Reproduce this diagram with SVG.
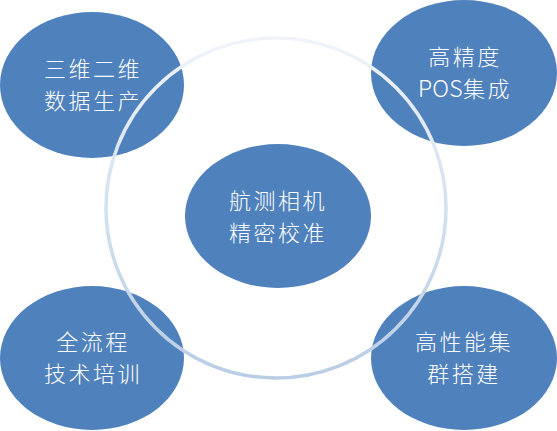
<svg xmlns="http://www.w3.org/2000/svg" width="557" height="431" viewBox="0 0 557 431">
  <defs>
    <linearGradient id="ringGrad" gradientUnits="userSpaceOnUse" x1="276" y1="38" x2="276" y2="378">
      <stop offset="0" stop-color="#f0f4fa"/>
      <stop offset="0.5" stop-color="#d3e0ef"/>
      <stop offset="1" stop-color="#b9cde5"/>
    </linearGradient>
  </defs>
  <style>
    .node { fill: #4f81bd; }
    .label { fill: #ffffff; font-family: "Noto Sans CJK SC", "Noto Sans", sans-serif; font-size: 22px; letter-spacing: 2.5px; text-anchor: middle; font-weight: 300; }
    .latin { letter-spacing: 0.3px; font-size: 23px; }
    .ring { fill: none; stroke: url(#ringGrad); stroke-width: 3.5; }
  </style>
  <rect width="557" height="431" fill="#ffffff"/>

  <g id="node-center">
    <ellipse class="node" cx="278" cy="216" rx="93" ry="72"/>
    <text class="label" x="278" y="209">航测相机</text>
    <text class="label" x="278" y="241">精密校准</text>
  </g>
  <g id="node-top-left">
    <ellipse class="node" cx="92" cy="85" rx="92" ry="73"/>
    <text class="label" x="93" y="77">三维二维</text>
    <text class="label" x="93" y="109">数据生产</text>
  </g>
  <g id="node-top-right">
    <ellipse class="node" cx="464" cy="73" rx="93" ry="73"/>
    <text class="label" x="465" y="65">高精度</text>
    <text class="label" x="465" y="97"><tspan class="latin">POS</tspan>集成</text>
  </g>
  <g id="node-bottom-left">
    <ellipse class="node" cx="92" cy="358" rx="92" ry="72"/>
    <text class="label" x="93" y="350">全流程</text>
    <text class="label" x="93" y="382">技术培训</text>
  </g>
  <g id="node-bottom-right">
    <ellipse class="node" cx="464" cy="358" rx="93" ry="72"/>
    <text class="label" x="464" y="350">高性能集</text>
    <text class="label" x="464" y="382">群搭建</text>
  </g>

  <g id="connectors">
    <circle class="ring" cx="276" cy="208" r="170"/>
  </g>
</svg>
